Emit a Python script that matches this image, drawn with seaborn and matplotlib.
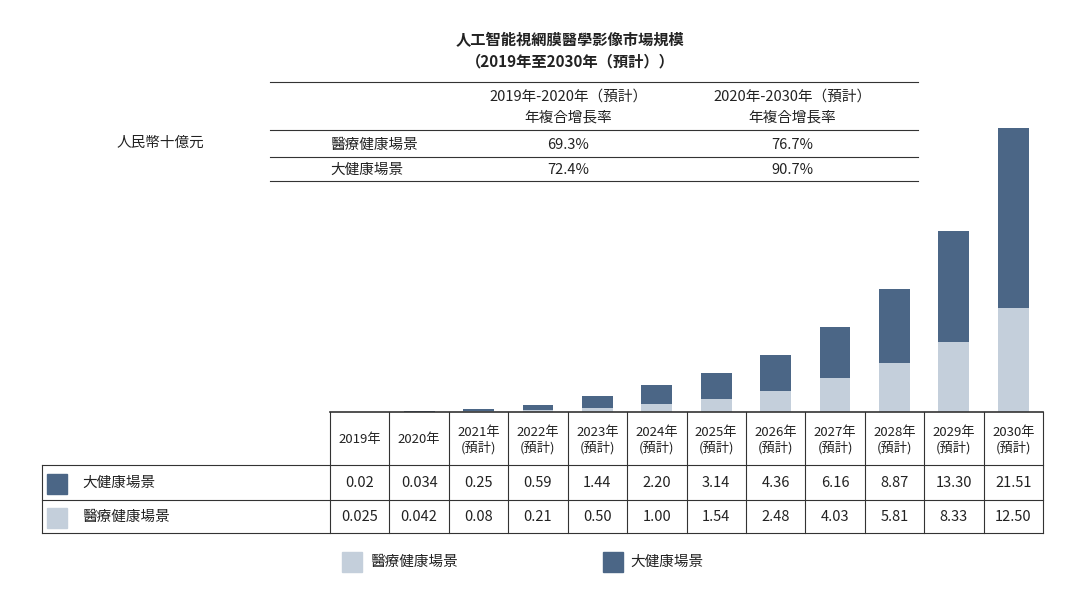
import matplotlib.pyplot as plt
import seaborn as sns
import pandas as pd

plt.rcParams["font.family"] = ["Noto Sans CJK JP", "Noto Sans CJK TC", "Noto Sans CJK SC",
                               "Noto Sans CJK KR", "DejaVu Sans"]

years = ["2019", "2020", "2021", "2022", "2023", "2024", "2025", "2026", "2027", "2028", "2029", "2030"]
year_labels = ["2019年", "2020年", "2021年\n(預計)", "2022年\n(預計)", "2023年\n(預計)", "2024年\n(預計)",
               "2025年\n(預計)", "2026年\n(預計)", "2027年\n(預計)", "2028年\n(預計)", "2029年\n(預計)", "2030年\n(預計)"]
big_health = [0.02, 0.034, 0.25, 0.59, 1.44, 2.20, 3.14, 4.36, 6.16, 8.87, 13.30, 21.51]
medical = [0.025, 0.042, 0.08, 0.21, 0.50, 1.00, 1.54, 2.48, 4.03, 5.81, 8.33, 12.50]
big_txt = ["0.02", "0.034", "0.25", "0.59", "1.44", "2.20", "3.14", "4.36", "6.16", "8.87", "13.30", "21.51"]
med_txt = ["0.025", "0.042", "0.08", "0.21", "0.50", "1.00", "1.54", "2.48", "4.03", "5.81", "8.33", "12.50"]
cagr_rows = ["醫療健康場景", "大健康場景"]
cagr_1920 = ["69.3%", "72.4%"]
cagr_2030 = ["76.7%", "90.7%"]

DARK = "#4b6686"
LIGHT = "#c4cfdb"
W, H = 1080, 597

df = pd.DataFrame({"year": years, "big": big_health, "med": medical})

fig = plt.figure(figsize=(W / 100, H / 100), dpi=100)
fig.patch.set_facecolor("white")

def fx(x):
    return x / W

def fy(y):
    return 1 - y / H

def hline(y, x0, x1, lw=0.8):
    fig.add_artist(plt.Line2D([fx(x0), fx(x1)], [fy(y), fy(y)], color="#333333", lw=lw))

def vline(x, y0, y1, lw=0.8):
    fig.add_artist(plt.Line2D([fx(x), fx(x)], [fy(y0), fy(y1)], color="#333333", lw=lw))

def txt(x, y, s, size=10.5, **kw):
    fig.text(fx(x), fy(y), s, ha=kw.pop("ha", "center"), va=kw.pop("va", "center"),
             fontsize=size, color="#222222", **kw)

# bars
x0, x1, base, top = 330, 1043, 412, 128
ax = fig.add_axes([fx(x0), fy(base), fx(x1 - x0), (base - top) / H])
sns.barplot(data=df, x="year", y="med", color=LIGHT, width=0.52, ax=ax, saturation=1)
sns.barplot(data=df, x="year", y="big", bottom=df["med"], color=DARK, width=0.52, ax=ax, saturation=1)
ax.set_xlim(-0.5, 11.5)
ax.set_ylim(0, 34.01)
ax.axis("off")

# title
txt(570, 40, "人工智能視網膜醫學影像市場規模", 11, weight="bold")
txt(570, 61, "（2019年至2030年（預計））", 11, weight="bold")

# CAGR table
hline(82, 270, 918)
hline(130, 270, 918)
hline(157, 270, 918)
hline(181, 270, 918)
txt(568, 97, "2019年-2020年（預計）")
txt(568, 118, "年複合增長率")
txt(792, 97, "2020年-2030年（預計）")
txt(792, 118, "年複合增長率")
txt(160, 143, "人民幣十億元", style="italic")
for i, (name, a, b) in enumerate(zip(cagr_rows, cagr_1920, cagr_2030)):
    y = 145 + i * 25
    txt(330, y, name, ha="left")
    txt(568, y, a)
    txt(792, y, b)

# data table
colw = (x1 - x0) / 12
hline(412, x0, x1, 1.2)
hline(465, 42, x1)
hline(500, 42, x1)
hline(533, 42, x1)
vline(42, 465, 533)
for i in range(13):
    vline(x0 + i * colw, 412, 533)
for i in range(12):
    cx = x0 + (i + 0.5) * colw
    txt(cx, 440, year_labels[i], 9.5, linespacing=1.2)
    txt(cx, 483, big_txt[i])
    txt(cx, 517, med_txt[i])
fig.add_artist(plt.Rectangle((fx(47), fy(494)), fx(20), 20 / H, color=DARK))
txt(82, 483, "大健康場景", ha="left")
fig.add_artist(plt.Rectangle((fx(47), fy(528)), fx(20), 20 / H, color=LIGHT))
txt(82, 517, "醫療健康場景", ha="left")

# legend
fig.add_artist(plt.Rectangle((fx(342), fy(572)), fx(20), 20 / H, color=LIGHT))
txt(370, 562, "醫療健康場景", ha="left")
fig.add_artist(plt.Rectangle((fx(603), fy(572)), fx(20), 20 / H, color=DARK))
txt(630, 562, "大健康場景", ha="left")

fig.savefig("out.png", dpi=100)
